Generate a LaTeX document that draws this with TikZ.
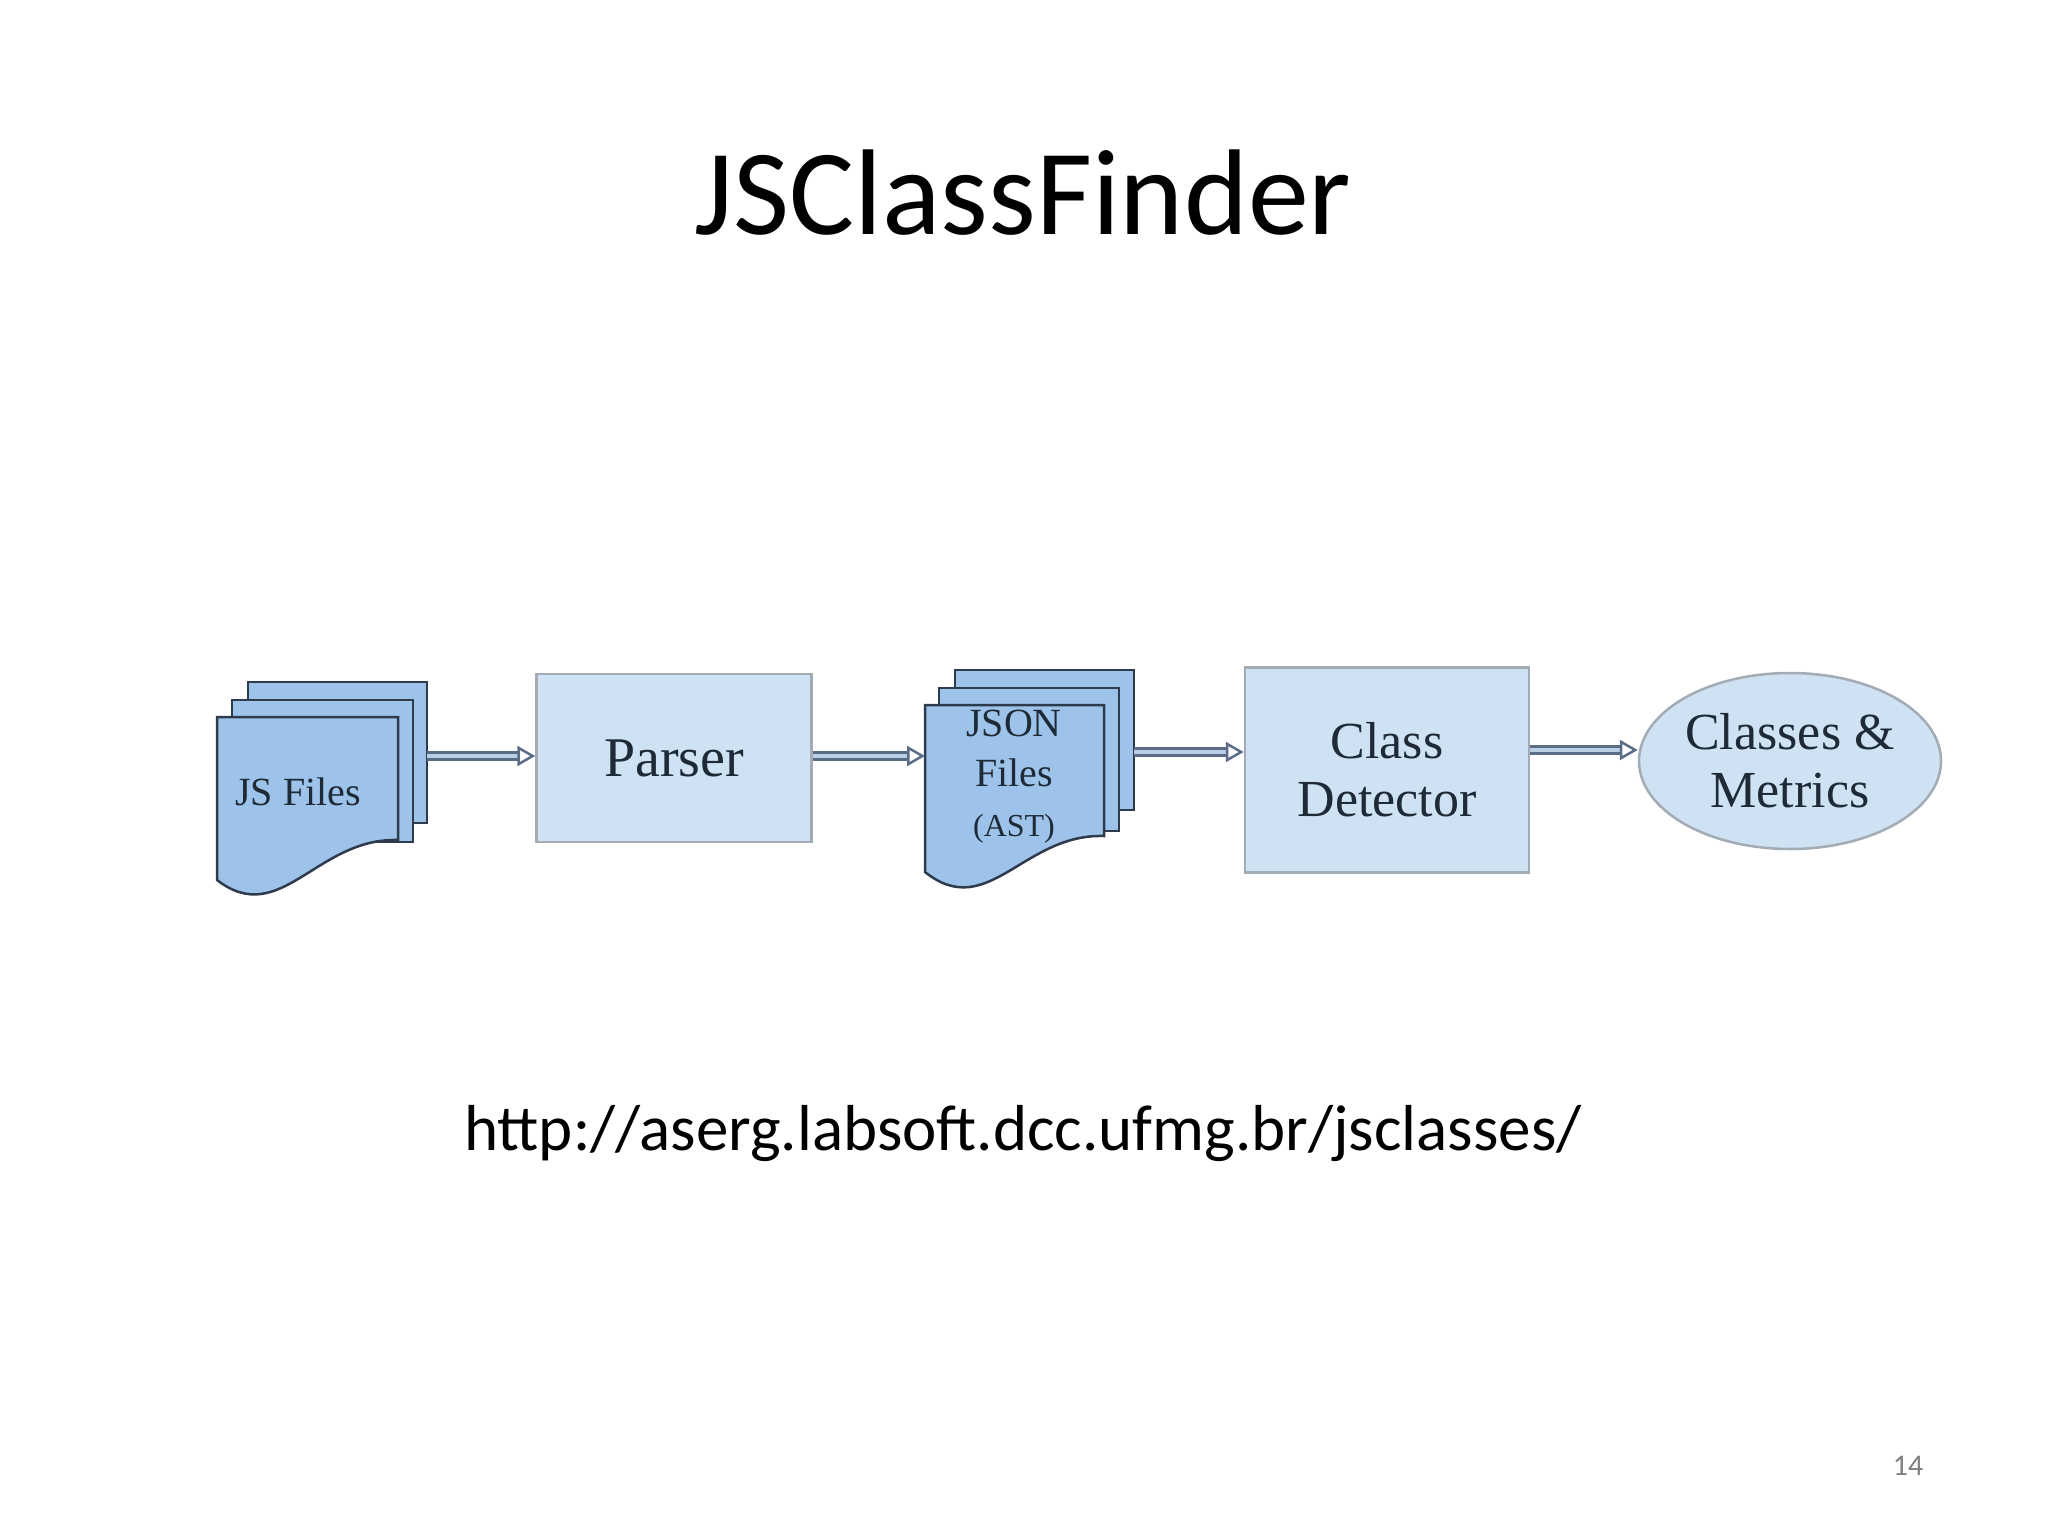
\documentclass[tikz,border=0pt]{standalone}
\usepackage{fontspec}
\setmainfont{Liberation Serif}
\newfontfamily\cali{Carlito}
\usetikzlibrary{arrows.meta,shapes.geometric}
\definecolor{boxfill}{HTML}{CFE2F3}
\definecolor{boxline}{HTML}{A3ABB5}
\definecolor{pagefill}{HTML}{9DC3EA}
\definecolor{pageline}{HTML}{2E3B4C}
\definecolor{arr}{HTML}{5B6D86}
\definecolor{arrin}{HTML}{B9CFE6}
\definecolor{txt}{HTML}{1E2A36}
\tikzset{
  box/.style={draw=boxline,line width=2.5pt,fill=boxfill,text=txt,align=center,inner sep=0pt},
  page/.style={draw=pageline,line width=2.5pt,fill=pagefill},
  flow/.style={draw=arr,line width=2.5pt,double=arrin,double distance=4.5pt,-{Triangle[open,length=18pt,width=20pt]}},
  lbl/.style={text=txt,align=center,inner sep=0pt}
}
\newcommand{\docpage}[5]{% x0 x1 top bottom-left bottom-right
  \path[page] (#1,#3) -- (#2,#3) -- (#2,#5)
   .. controls ({#1+0.55*(#2-#1)},{#5-0.02*(#5-#3)}) and ({#1+0.35*(#2-#1)},{#4+0.30*(#4-#3)}) .. (#1,#4) -- cycle;}
\newcommand{\rectpage}[4]{\path[page] (#1,#3) rectangle (#2,#4);}
\begin{document}
\begin{tikzpicture}[x=1pt,y=-1pt]
\useasboundingbox (0,0) rectangle (2048,1536);
\fill[white] (0,0) rectangle (2048,1536);
\node[inner sep=0pt] (title) at (1023,193) {\cali\fontsize{122}{140}\selectfont JSClassFinder};
\node[inner sep=0pt] (url) at (1023,1134) {\cali\fontsize{65}{78}\selectfont http://aserg.labsoft.dcc.ufmg.br/jsclasses/};
\node[inner sep=0pt,text=gray] (num) at (1908,1466) {\cali\fontsize{30}{36}\selectfont 14};
% JS files stack
\rectpage{248}{427}{682}{823}
\rectpage{232}{413}{700}{842}
\docpage{217}{398}{717}{880}{840}
\node[lbl,font=\fontsize{40}{46}\selectfont] (js) at (298,792) {JS Files};
\coordinate (jsr) at (427,756);
% Parser
\node[box,minimum width=275pt,minimum height=168pt,font=\fontsize{56}{62}\selectfont] (parser) at (674,758) {Parser};
% JSON stack
\rectpage{955}{1134}{670}{810}
\rectpage{939}{1119}{688}{831}
\docpage{925}{1104}{705}{872}{836}
\node[lbl,font=\fontsize{40}{50}\selectfont] (json) at (1014,777) {JSON\\Files\\{\fontsize{32}{44}\selectfont (AST)}};
\coordinate (jsonl) at (925,756);
\coordinate (jsonr) at (1134,752);
% Class detector
\node[box,minimum width=284pt,minimum height=205pt,font=\fontsize{52}{58}\selectfont] (det) at (1387,770) {Class\\Detector};
% Ellipse
\node[box,ellipse,minimum width=302pt,minimum height=176pt,font=\fontsize{52}{58}\selectfont] (out) at (1790,761) {Classes \&\\Metrics};
% arrows
\draw[flow] (jsr) -- (parser.west |- jsr);
\draw[flow] (parser.east |- jsonl) -- (jsonl);
\draw[flow] (jsonr) -- (det.west |- jsonr);
\draw[flow] (det.east |- 0,750) -- (out.west |- 0,750);
\end{tikzpicture}
\end{document}
